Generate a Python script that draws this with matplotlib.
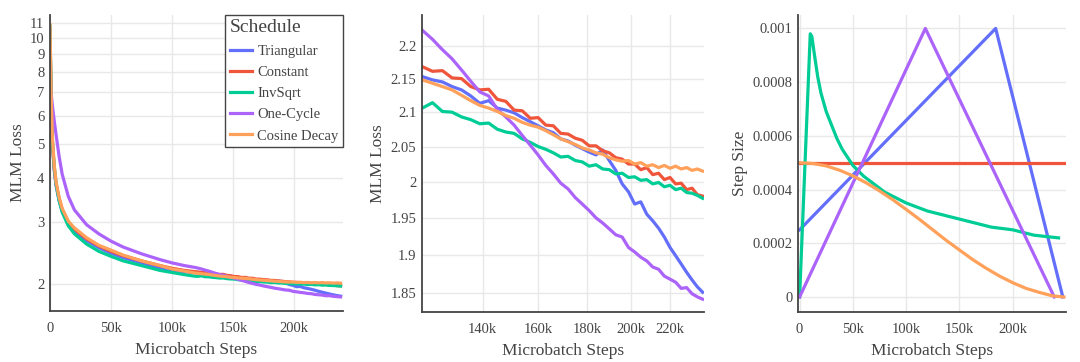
import numpy as np
import matplotlib
matplotlib.use("Agg")
import matplotlib.pyplot as plt
from matplotlib.ticker import FixedLocator, FixedFormatter, NullLocator

plt.rcParams['font.family'] = ['Liberation Serif', 'DejaVu Serif']

# ---------------- data ----------------
schedules = ["Triangular", "Constant", "InvSqrt", "One-Cycle", "Cosine Decay"]
colors = ["#636efa", "#EF553B", "#00cc96", "#ab63fa", "#FFA15A"]

# loss curves, early part (steps in thousands)
t_early = [0, 0.5, 1, 2, 3.5, 5, 7.5, 10, 15, 20, 30, 40, 50, 60, 75, 90, 100, 110, 118]
tri_early = [10.5, 8.0, 6.4, 5.0, 4.2, 3.8, 3.45, 3.22, 2.98, 2.84, 2.66, 2.54, 2.45, 2.38, 2.30, 2.23, 2.19, 2.17, 2.158]
con_early = [10.6, 8.2, 6.5, 5.0, 4.25, 3.85, 3.5, 3.26, 3.0, 2.87, 2.69, 2.57, 2.48, 2.41, 2.33, 2.26, 2.22, 2.19, 2.173]
inv_early = [10.8, 8.3, 6.6, 5.1, 4.3, 3.85, 3.45, 3.2, 2.93, 2.78, 2.60, 2.48, 2.40, 2.33, 2.26, 2.19, 2.16, 2.13, 2.11]
one_early = [7.3, 7.1, 6.9, 6.4, 5.8, 5.3, 4.6, 4.1, 3.55, 3.25, 2.95, 2.78, 2.65, 2.55, 2.44, 2.35, 2.30, 2.26, 2.235]
cos_early = [10.9, 8.4, 6.7, 5.2, 4.35, 3.9, 3.52, 3.28, 3.02, 2.89, 2.71, 2.58, 2.50, 2.42, 2.33, 2.26, 2.21, 2.18, 2.155]

# loss curves, late part (steps in thousands)
t_late = [121, 124, 127, 130, 133, 136, 139, 142, 145, 148, 151, 154, 157, 160, 163, 166, 169, 172, 175, 178,
          181, 184, 187, 190, 193, 196, 199, 202, 205, 208, 211, 214, 217, 220, 223, 226, 229, 232, 235, 238]
tri_late = [2.153, 2.148, 2.145, 2.138, 2.133, 2.124, 2.113, 2.117, 2.106, 2.103, 2.099, 2.092, 2.086, 2.080,
            2.074, 2.070, 2.061, 2.058, 2.052, 2.047, 2.042, 2.038, 2.045, 2.030, 2.016, 1.997, 1.986, 1.969,
            1.972, 1.955, 1.946, 1.936, 1.924, 1.910, 1.899, 1.888, 1.877, 1.867, 1.858, 1.851]
con_late = [2.168, 2.161, 2.162, 2.151, 2.150, 2.138, 2.133, 2.134, 2.119, 2.116, 2.103, 2.102, 2.091, 2.092,
            2.081, 2.080, 2.069, 2.068, 2.062, 2.059, 2.051, 2.051, 2.044, 2.041, 2.034, 2.032, 2.025, 2.025,
            2.017, 2.020, 2.010, 2.012, 2.003, 2.006, 1.997, 1.998, 1.989, 1.991, 1.982, 1.980]
inv_late = [2.106, 2.114, 2.101, 2.100, 2.093, 2.089, 2.083, 2.084, 2.075, 2.071, 2.069, 2.061, 2.056, 2.050,
            2.046, 2.041, 2.035, 2.036, 2.030, 2.028, 2.022, 2.024, 2.018, 2.017, 2.011, 2.012, 2.006, 2.007,
            2.002, 2.003, 1.997, 1.999, 1.993, 1.995, 1.989, 1.991, 1.985, 1.984, 1.981, 1.977]
one_late = [2.224, 2.210, 2.194, 2.180, 2.163, 2.146, 2.130, 2.124, 2.104, 2.093, 2.081, 2.066, 2.052, 2.038,
            2.023, 2.011, 1.998, 1.990, 1.978, 1.969, 1.960, 1.950, 1.943, 1.935, 1.927, 1.924, 1.910, 1.904,
            1.897, 1.892, 1.884, 1.881, 1.872, 1.868, 1.864, 1.856, 1.857, 1.849, 1.845, 1.842]
cos_late = [2.148, 2.143, 2.138, 2.133, 2.125, 2.117, 2.110, 2.106, 2.101, 2.095, 2.091, 2.085, 2.081, 2.078,
            2.073, 2.067, 2.061, 2.057, 2.053, 2.048, 2.045, 2.041, 2.039, 2.034, 2.031, 2.029, 2.030, 2.025,
            2.027, 2.022, 2.024, 2.020, 2.023, 2.019, 2.022, 2.018, 2.020, 2.016, 2.018, 2.015]

# step-size schedules (steps in thousands)
tri_lr_t = [0, 184, 247]
tri_lr = [0.00025, 0.001, 0.0]
con_lr_t = [0, 249]
con_lr = [0.0005, 0.0005]
inv_lr_t = [0, 10, 11.5, 14, 17, 20, 25, 30, 35, 40, 50, 60, 70, 80, 100, 120, 140, 160, 180, 200, 220, 243]
inv_lr = [0.0, 0.00098, 0.00097, 0.00090, 0.00082, 0.00076, 0.00069, 0.00064, 0.00059, 0.00055, 0.00049,
          0.00045, 0.00042, 0.00039, 0.00035, 0.00032, 0.00030, 0.00028, 0.00026, 0.00025, 0.00023, 0.00022]
one_lr_t = [0, 118, 239]
one_lr = [0.0, 0.001, 0.0]
cos_lr_t = [0, 12.5, 25, 37.5, 50, 62.5, 75, 87.5, 100, 112.5, 125, 137.5, 150, 162.5, 175, 187.5, 200,
            212.5, 225, 237.5, 248]
cos_lr = [0.0005, 0.000497, 0.000488, 0.000472, 0.000451, 0.000425, 0.000395, 0.000362, 0.000326, 0.000289,
          0.000250, 0.000211, 0.000175, 0.000139, 0.000107, 0.000078, 0.000053, 0.000032, 0.000017,
          0.000004, 0.0]

loss_early = [tri_early, con_early, inv_early, one_early, cos_early]
loss_late = [tri_late, con_late, inv_late, one_late, cos_late]
lr_t = [tri_lr_t, con_lr_t, inv_lr_t, one_lr_t, cos_lr_t]
lr_v = [tri_lr, con_lr, inv_lr, one_lr, cos_lr]

# ---------------- styling ----------------
TXT = "#444444"
GRID = "#e8e8e8"
LW = 2.3
W, H = 1080, 362

fig = plt.figure(figsize=(W / 100, H / 100), dpi=100)


def make_ax(x0, x1, y0, y1):
    ax = fig.add_axes([x0 / W, 1 - y1 / H, (x1 - x0) / W, (y1 - y0) / H])
    for s in ["top", "right"]:
        ax.spines[s].set_visible(False)
    for s in ["left", "bottom"]:
        ax.spines[s].set_color(TXT)
        ax.spines[s].set_linewidth(1.3)
    ax.tick_params(length=0, labelsize=10.5, colors=TXT)
    ax.tick_params(axis="x", pad=8)
    ax.tick_params(axis="y", pad=4)
    ax.grid(True, color=GRID, linewidth=1.0)
    ax.set_axisbelow(True)
    return ax


def labels(ax, ylab):
    ax.set_xlabel("Microbatch Steps", fontsize=12.5, color=TXT, labelpad=5)
    ax.set_ylabel(ylab, fontsize=12.5, color=TXT, labelpad=3)


# ---- panel 1 ----
ax1 = make_ax(50, 343, 15, 311)
for name, col, e, l in zip(schedules, colors, loss_early, loss_late):
    t = np.array(t_early + t_late) * 1000
    v = np.array(e + l)
    ax1.plot(t, v, color=col, lw=LW, label=name, solid_joinstyle="round")
ax1.set_yscale("log")
ax1.set_xlim(0, 240000)
ax1.set_ylim(1.68, 11.6)
yt1 = [2, 3, 4, 5, 6, 7, 8, 9, 10, 11]
ax1.yaxis.set_major_locator(FixedLocator(yt1))
ax1.yaxis.set_major_formatter(FixedFormatter([str(v) for v in yt1]))
ax1.yaxis.set_minor_locator(NullLocator())
xt1 = [0, 50000, 100000, 150000, 200000]
ax1.xaxis.set_major_locator(FixedLocator(xt1))
ax1.xaxis.set_major_formatter(FixedFormatter(["0", "50k", "100k", "150k", "200k"]))
labels(ax1, "MLM Loss")
leg = ax1.legend(title="Schedule", loc="upper right", bbox_to_anchor=(1.0, 1.0), borderaxespad=0,
                 fontsize=10.5, title_fontsize=14, fancybox=False, framealpha=1,
                 edgecolor=TXT, handlelength=1.5, handletextpad=0.4, labelspacing=0.55,
                 borderpad=0.3, alignment="left")
leg.get_frame().set_linewidth(1.0)
leg.get_title().set_color(TXT)
for txt in leg.get_texts():
    txt.set_color(TXT)

# ---- panel 2 ----
ax2 = make_ax(422, 704, 15, 312)
for name, col, l in zip(schedules, colors, loss_late):
    ax2.plot(np.array(t_late) * 1000, l, color=col, lw=LW, solid_joinstyle="round")
ax2.set_xscale("log")
ax2.set_yscale("log")
ax2.set_xlim(120900, 238800)
ax2.set_ylim(1.8255, 2.248)
yt2 = [1.85, 1.9, 1.95, 2.0, 2.05, 2.1, 2.15, 2.2]
ax2.yaxis.set_major_locator(FixedLocator(yt2))
ax2.yaxis.set_major_formatter(FixedFormatter(["1.85", "1.9", "1.95", "2", "2.05", "2.1", "2.15", "2.2"]))
ax2.yaxis.set_minor_locator(NullLocator())
xt2 = [140000, 160000, 180000, 200000, 220000]
ax2.xaxis.set_major_locator(FixedLocator(xt2))
ax2.xaxis.set_major_formatter(FixedFormatter(["140k", "160k", "180k", "200k", "220k"]))
ax2.xaxis.set_minor_locator(NullLocator())
labels(ax2, "MLM Loss")

# ---- panel 3 ----
ax3 = make_ax(798, 1066, 15, 312)
for name, col, tt, vv in zip(schedules, colors, lr_t, lr_v):
    ax3.plot(np.array(tt) * 1000, vv, color=col, lw=LW, solid_joinstyle="round")
ax3.set_xlim(-1500, 250000)
ax3.set_ylim(-0.000056, 0.00105)
yt3 = [0, 0.0002, 0.0004, 0.0006, 0.0008, 0.001]
ax3.yaxis.set_major_locator(FixedLocator(yt3))
ax3.yaxis.set_major_formatter(FixedFormatter(["0", "0.0002", "0.0004", "0.0006", "0.0008", "0.001"]))
ax3.xaxis.set_major_locator(FixedLocator(xt1))
ax3.xaxis.set_major_formatter(FixedFormatter(["0", "50k", "100k", "150k", "200k"]))
labels(ax3, "Step Size")

fig.savefig("out.png", dpi=100, facecolor="white")
